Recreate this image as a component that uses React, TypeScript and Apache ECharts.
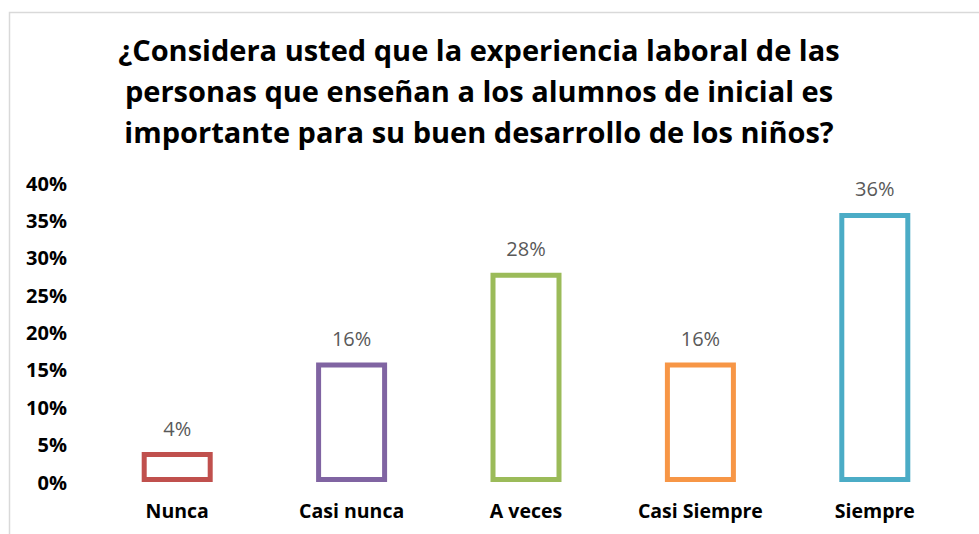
import React, { useEffect, useRef } from "react";
import * as echarts from "echarts";

const categories = ["Nunca", "Casi nunca", "A veces", "Casi Siempre", "Siempre"];
const values = [4, 16, 28, 16, 36];
const colors = ["#C0504D", "#8064A2", "#9BBB59", "#F79646", "#4BACC6"];
const titleText =
  "¿Considera usted que la experiencia laboral de las\npersonas que enseñan a los alumnos de inicial es\nimportante para su buen desarrollo de los niños?";

export default function App() {
  const ref = useRef<HTMLDivElement>(null);
  useEffect(() => {
    const chart = echarts.init(ref.current!, null, { renderer: "svg" });
    chart.setOption({
      animation: false,
      backgroundColor: "#ffffff",
      title: {
        text: titleText,
        left: 474,
        top: 24,
        textAlign: "center",
        textStyle: {
          fontFamily: "Open Sans",
          fontWeight: "bold",
          fontSize: 29,
          lineHeight: 41,
          color: "#000000",
        },
      },
      graphic: [
        {
          type: "polyline",
          shape: { points: [[9.5, 534], [9.5, 12.5], [979, 12.5]] },
          style: { stroke: "#d9d9d9", lineWidth: 1.5, fill: "none" },
          silent: true,
        },
      ],
      grid: { left: 90, right: 17, top: 183, bottom: 52, containLabel: false },
      xAxis: {
        type: "category",
        data: categories,
        axisLine: { show: false },
        axisTick: { show: false },
        axisLabel: {
          fontFamily: "Open Sans",
          fontWeight: "bold",
          fontSize: 19.5,
          color: "#000000",
          margin: 18,
        },
      },
      yAxis: {
        type: "value",
        min: 0,
        max: 40,
        interval: 5,
        splitLine: { show: false },
        axisLine: { show: false },
        axisTick: { show: false },
        axisLabel: {
          formatter: "{value}%",
          fontFamily: "Open Sans",
          fontWeight: "bold",
          fontSize: 20,
          color: "#000000",
          margin: 23,
        },
      },
      series: [
        {
          type: "bar",
          barWidth: 71,
          data: values.map((v, i) => ({
            value: v,
            itemStyle: { color: "#ffffff", borderColor: colors[i], borderWidth: 5 },
          })),
          label: {
            show: true,
            position: "top",
            distance: 14,
            formatter: "{c}%",
            fontFamily: "Open Sans",
            fontSize: 20,
            color: "#595959",
          },
        },
      ],
    });
    return () => chart.dispose();
  }, []);
  return (
    <div
      ref={ref}
      style={{ position: "absolute", left: 0, top: 0, width: 979, height: 534 }}
    />
  );
}
